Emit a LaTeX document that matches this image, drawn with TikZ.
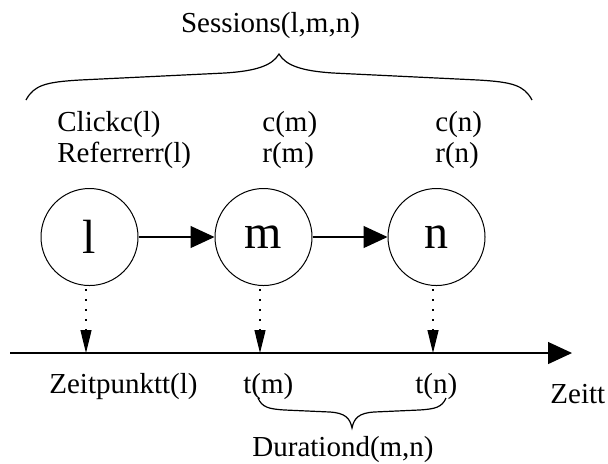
\documentclass[tikz,border=0pt]{standalone}
\usepackage{fontspec}
\setmainfont{Liberation Serif}
\usetikzlibrary{arrows.meta}

\begin{document}
\begin{tikzpicture}[
    x=0.5pt, y=-0.5pt,
    visit/.style={circle, draw, line width=0.5pt, minimum size=48.5pt, inner sep=0pt, font=\fontsize{24}{24}\selectfont},
    info/.style={anchor=base west, inner sep=0pt, font=\fontsize{14.5}{14.5}\selectfont},
    link/.style={draw, line width=0.6pt, -{Triangle[length=12pt, width=11pt]}},
    tick/.style={draw, line width=0.6pt, dash pattern=on 0.8pt off 4.2pt, -{Triangle[length=11.5pt, width=5.5pt]}},
    curly/.style={draw, line width=0.6pt}
]
  \useasboundingbox (0,0) rectangle (608,463);

  % pages of one session
  \node[visit] (l) at (89.5,237) {l};
  \node[visit] (m) at (263.5,237) {m};
  \node[visit] (n) at (436.5,237) {n};
  \draw[link] (l) -- (m);
  \draw[link] (m) -- (n);

  % click and referrer of each page
  \node[info] (clickl) at (57,131) {Clickc(l)};
  \node[info] (refl) at (57,162) {Referrerr(l)};
  \node[info] (clickm) at (262,131) {c(m)};
  \node[info] (refm) at (262,162) {r(m)};
  \node[info] (clickn) at (435,131) {c(n)};
  \node[info] (refn) at (435,162) {r(n)};

  % session brace
  \node[info, anchor=base] (sessions) at (270.5,32) {Sessions(l,m,n)};
  \draw[curly] (26,100) .. controls (34,85) and (46,82) .. (80,80) -- (225,73)
    .. controls (255,71) and (272,66) .. (279,54)
    .. controls (286,66) and (303,71) .. (333,73) -- (478,80)
    .. controls (512,82) and (524,85) .. (532,100);

  % time axis
  \coordinate (t0) at (10,353);
  \coordinate (t1) at (572,353);
  \coordinate (tl) at (86,353);
  \coordinate (tm) at (260,353);
  \coordinate (tn) at (433,353);
  \draw[link] (t0) -- (t1);
  \draw[tick] (tl |- l.south) ++(0,3) -- (tl);
  \draw[tick] (tm |- m.south) ++(0,3) -- (tm);
  \draw[tick] (tn |- n.south) ++(0,3) -- (tn);

  \node[info] (timel) at (49,393) {Zeitpunktt(l)};
  \node[info] (timem) at (243,393) {t(m)};
  \node[info] (timen) at (415,393) {t(n)};
  \node[info] (axis) at (550,403) {Zeitt};

  % duration brace
  \draw[curly] (258,398) .. controls (262,407) and (268,409) .. (285,410) -- (330,412)
    .. controls (345,413) and (350,418) .. (352,428)
    .. controls (354,418) and (359,413) .. (374,412) -- (419,410)
    .. controls (436,409) and (442,407) .. (446,398);
  \node[info] (duration) at (252,456) {Durationd(m,n)};
\end{tikzpicture}
\end{document}
